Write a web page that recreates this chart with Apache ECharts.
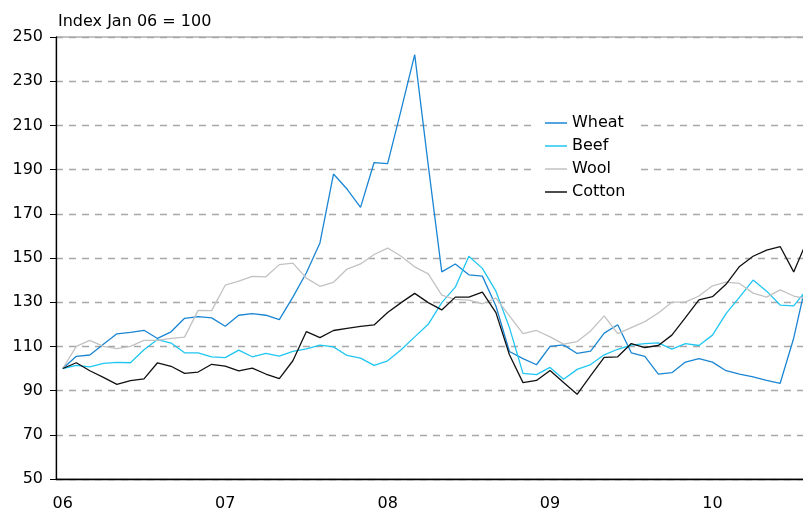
<!DOCTYPE html>
<html>
<head>
<meta charset="utf-8">
<script src="https://cdn.jsdelivr.net/npm/echarts@6/dist/echarts.min.js"></script>
<style>
  html, body { margin: 0; padding: 0; background: #fff; }
  #main { width: 803px; height: 510px; }
</style>
</head>
<body>
<div id="main"></div>
<script>
// monthly, Jan 06 .. Aug 10 (last month runs off the right edge)
const years = ["06", "07", "08", "09", "10"];
const monthNames = ["Jan", "Feb", "Mar", "Apr", "May", "Jun", "Jul", "Aug", "Sep", "Oct", "Nov", "Dec"];

const wheat = [100, 105.5, 106.1, 111, 115.7, 116.3, 117.3, 113.6, 116.6, 122.7, 123.5, 122.9,
  119.1, 124.1, 124.8, 124.1, 122.1, 132.3, 143.3, 156.8, 188, 181.2, 172.9, 193.2,
  192.7, 217, 242, 192, 143.7, 147.3, 142.4, 141.8, 128.3, 107.7, 104.5, 101.7,
  110, 110.7, 106.8, 107.9, 116, 119.8, 107.1, 105.5, 97.5, 98.1, 102.9, 104.5,
  102.9, 99, 97.5, 96.2, 94.6, 93.3, 113.7, 141];
const beef = [100, 101.4, 100.7, 102.3, 102.8, 102.6, 108.5, 113.1, 111.5, 107.1, 107.1, 105.3,
  104.9, 108.3, 105.3, 106.8, 105.6, 107.7, 108.9, 110.6, 109.8, 105.9, 104.7, 101.4,
  103.5, 108.5, 114.3, 120, 129.8, 136.8, 150.8, 145.3, 135, 118.5, 97.8, 97.2,
  100.5, 95.1, 99.6, 101.8, 106.2, 108.7, 110.6, 111.3, 111.6, 108.8, 111.3, 110.4,
  115.1, 124.8, 132.3, 140, 135, 128.7, 128.3, 136];
const wool = [100, 110, 112.7, 110, 109, 110, 112.7, 112.7, 113.6, 114.2, 126.3, 126.2,
  137.7, 139.5, 141.7, 141.5, 147, 147.7, 140.9, 137.2, 139, 145, 147.3, 151.6,
  154.5, 150.8, 146, 142.8, 133.2, 131.3, 130.9, 129.3, 131.8, 123.8, 115.8, 117.2,
  114.3, 111, 112.2, 117, 123.8, 115.8, 118.5, 121.2, 125.1, 130, 130, 132.8,
  137.4, 139.1, 138.5, 134.1, 132.3, 135.6, 132.8, 131.5];
const cotton = [100, 102.6, 99, 96, 92.8, 94.5, 95.3, 102.6, 101, 97.8, 98.4, 101.9,
  101.1, 98.9, 100.2, 97.5, 95.4, 103.5, 116.7, 114, 117.2, 118.2, 119.1, 119.7,
  125.3, 129.8, 134, 129.8, 126.5, 132.3, 132.3, 134.6, 125.3, 106.2, 93.6, 94.6,
  99.1, 93.7, 88.3, 96.8, 105, 105.3, 111.3, 109.5, 110.4, 115.1, 123, 131.1,
  132.5, 138.1, 146.2, 150.8, 153.6, 155.2, 143.7, 158];

const months = [];
years.forEach((y) => monthNames.forEach((m) => months.push(m + " " + y)));
const categories = months.slice(0, wheat.length);

const FONT = "DejaVu Sans";
const chart = echarts.init(document.getElementById("main"));

const mkSeries = (name, data, color) => ({
  name,
  type: "line",
  data,
  symbol: "none",
  color,
  lineStyle: { width: 1.3, color },
  animation: false,
});

chart.setOption({
  animation: false,
  textStyle: { fontFamily: FONT },
  title: {
    text: "Index Jan 06 = 100",
    left: 53,
    top: 9,
    textStyle: { fontFamily: FONT, fontSize: 16, fontWeight: "normal", color: "#000" },
  },
  legend: {
    orient: "vertical",
    left: 537,
    top: 109,
    backgroundColor: "#fff",
    padding: [5, 12, 5, 8],
    icon: "rect",
    itemWidth: 22,
    itemHeight: 1.5,
    itemGap: 5,
    textStyle: { fontFamily: FONT, fontSize: 16, lineHeight: 18, color: "#000" },
    data: ["Wheat", "Beef", "Wool", "Cotton"],
  },
  grid: {
    left: 56,
    top: 37,
    width: 758,
    height: 442,
    outerBoundsMode: "none",
    containLabel: false,
    show: true,
    borderColor: "#888",
    borderWidth: 1,
    backgroundColor: "transparent",
  },
  xAxis: {
    type: "category",
    data: categories,
    boundaryGap: true,
    axisLine: { lineStyle: { color: "#000", width: 1.3 } },
    axisTick: {
      interval: (i) => i % 12 === 0,
      alignWithLabel: false,
      length: 5,
      lineStyle: { color: "#000" },
    },
    axisLabel: {
      interval: (i) => i % 12 === 0,
      formatter: (v) => v.slice(4),
      fontFamily: FONT,
      fontSize: 16,
      color: "#000",
      margin: 17,
    },
    splitLine: { show: false },
  },
  yAxis: {
    type: "value",
    min: 50,
    max: 250,
    interval: 20,
    axisLine: { show: true, lineStyle: { color: "#000", width: 1.3 } },
    axisTick: { show: true, length: 6, lineStyle: { color: "#000" } },
    axisLabel: { fontFamily: FONT, fontSize: 16, color: "#000", margin: 13 },
    splitLine: { lineStyle: { color: "#a8a8a8", width: 1.3, type: [7, 6] } },
  },
  series: [
    mkSeries("Wheat", wheat, "#1a86d3"),
    mkSeries("Beef", beef, "#20c6f2"),
    mkSeries("Wool", wool, "#c2c2c2"),
    mkSeries("Cotton", cotton, "#111111"),
  ],
});
</script>
</body>
</html>
